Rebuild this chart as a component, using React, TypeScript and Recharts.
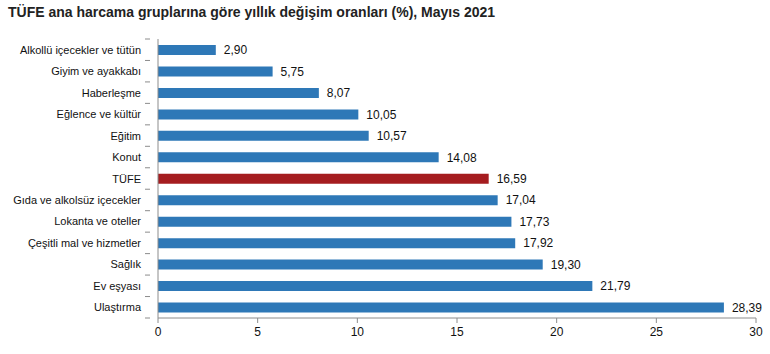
import { BarChart, Bar, XAxis, YAxis, LabelList, Cell } from 'recharts'

const categories = [
    'Alkollü içecekler ve tütün',
    'Giyim ve ayakkabı',
    'Haberleşme',
    'Eğlence ve kültür',
    'Eğitim',
    'Konut',
    'TÜFE',
    'Gıda ve alkolsüz içecekler',
    'Lokanta ve oteller',
    'Çeşitli mal ve hizmetler',
    'Sağlık',
    'Ev eşyası',
    'Ulaştırma',
]
const values = [2.90, 5.75, 8.07, 10.05, 10.57, 14.08, 16.59, 17.04, 17.73, 17.92, 19.30, 21.79, 28.39]
const xTicks = [0, 5, 10, 15, 20, 25, 30]

const BLUE = '#2e78b7'
const RED = '#a51c1f'
const AXIS = '#8c8c8c'
const FONT = '"Liberation Sans", Arial, sans-serif'

const data = categories.map((name, i) => ({ name, value: values[i] }))

// band height, used only to put the y tick marks between categories
const BAND = (318 - 39) / categories.length

function CatTick(props: any) {
    const { x, y, payload, index } = props
    return (
        <g>
            <text x={x - 9} y={y} dy={4} textAnchor="end" fontSize={11} fill="#111" fontFamily={FONT}>
                {payload.value}
            </text>
            <line x1={x - 5} x2={x} y1={y + BAND / 2} y2={y + BAND / 2} stroke={AXIS} />
            {index === 0 && <line x1={x - 5} x2={x} y1={y - BAND / 2} y2={y - BAND / 2} stroke={AXIS} />}
        </g>
    )
}

export default function App() {
    return (
        <div style={{ position: 'absolute', left: 0, top: 0, width: 770, height: 354, background: '#fff' }}>
            <div style={{
                position: 'absolute', left: 8, top: 4, fontFamily: FONT, fontWeight: 'bold',
                fontSize: 14, color: '#222', whiteSpace: 'nowrap',
            }}>
                TÜFE ana harcama gruplarına göre yıllık değişim oranları (%), Mayıs 2021
            </div>
            <BarChart
                width={770}
                height={354}
                data={data}
                layout="vertical"
                margin={{ top: 39, right: 14, left: 0, bottom: 6 }}
                barCategoryGap={6}
            >
                <XAxis
                    type="number"
                    domain={[0, 30]}
                    ticks={xTicks}
                    interval={0}
                    height={30}
                    tick={{ fontSize: 12, fill: '#111', fontFamily: FONT }}
                    tickSize={5}
                    tickMargin={4}
                    axisLine={{ stroke: AXIS }}
                    tickLine={{ stroke: AXIS }}
                />
                <YAxis
                    type="category"
                    dataKey="name"
                    width={158}
                    interval={0}
                    tick={<CatTick />}
                    tickLine={false}
                    axisLine={{ stroke: AXIS }}
                />
                <Bar dataKey="value" barSize={10} isAnimationActive={false}>
                    {data.map(d => (
                        <Cell key={d.name} fill={d.name === 'TÜFE' ? RED : BLUE} />
                    ))}
                    <LabelList
                        dataKey="value"
                        position="right"
                        offset={8}
                        formatter={(v: any) => Number(v).toFixed(2).replace('.', ',')}
                        style={{ fontSize: 12, fill: '#111', fontFamily: FONT }}
                    />
                </Bar>
            </BarChart>
        </div>
    )
}
